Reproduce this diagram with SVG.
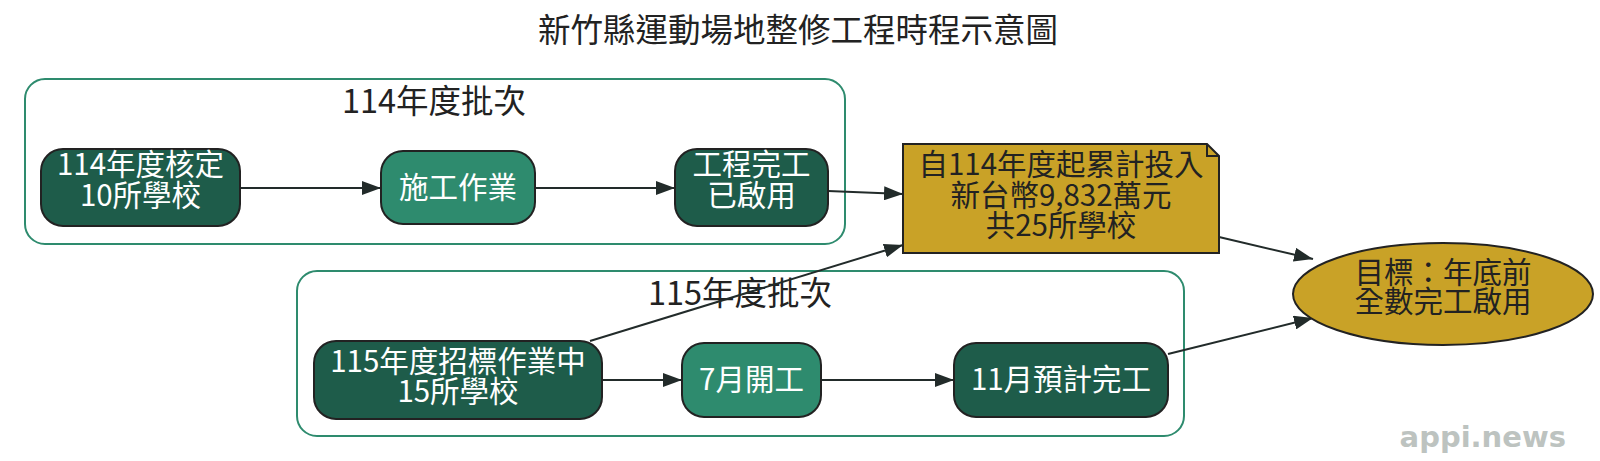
<svg xmlns="http://www.w3.org/2000/svg" width="1600" height="461" viewBox="0 0 1600 461">
<style>
text{font-family:"Noto Sans CJK TC","Noto Sans",sans-serif;text-anchor:middle}
.title{font-size:32.5px;fill:#222}
.clabel{font-size:32.5px;fill:#222}
.cluster{fill:#ffffff;stroke:#2e8b6e;stroke-width:2}
.dark{fill:#1e5c4a;stroke:#222;stroke-width:2}
.light{fill:#2e8b6e;stroke:#222;stroke-width:2}
.gold{fill:#c9a227;stroke:#222;stroke-width:2}
.wt{font-size:29.5px;fill:#ffffff}
.bt{font-size:29.5px;fill:#222}
.edge{stroke:#222b2a;stroke-width:2;fill:none;marker-end:url(#arr)}
.wm{font-family:"DejaVu Sans",sans-serif;font-weight:bold;font-size:29px;fill:#bdc3c0;text-anchor:end}
</style>
<defs>
<marker id="arr" markerUnits="userSpaceOnUse" markerWidth="20" markerHeight="14" refX="19" refY="7" orient="auto">
<path d="M0,0 L19,7 L0,14 z" fill="#222b2a"/>
</marker>
</defs>
<rect width="1600" height="461" fill="#ffffff"/>
<text class="title" x="798" y="42">新竹縣運動場地整修工程時程示意圖</text>

<g id="cluster114">
<rect class="cluster" x="25" y="79" width="820" height="165" rx="20"/>
<text class="clabel" x="434" y="113">114年度批次</text>
</g>
<g id="cluster115">
<rect class="cluster" x="297" y="271" width="887" height="165" rx="20"/>
<text class="clabel" x="740" y="305">115年度批次</text>
</g>

<g id="edges">
<line class="edge" x1="240" y1="188" x2="381" y2="188"/>
<line class="edge" x1="535" y1="188" x2="675" y2="188"/>
<line class="edge" x1="828" y1="191" x2="903" y2="194"/>
<line class="edge" x1="590" y1="341" x2="903" y2="245"/>
<line class="edge" x1="602" y1="380" x2="682" y2="380"/>
<line class="edge" x1="821" y1="380" x2="954" y2="380"/>
<line class="edge" x1="1219" y1="237" x2="1313" y2="259"/>
<line class="edge" x1="1168" y1="354" x2="1313" y2="318"/>
</g>

<g id="n114approved">
<rect class="dark" x="41" y="149" width="199" height="77" rx="22"/>
<text class="wt" x="140.5" y="175">114年度核定</text>
<text class="wt" x="140.5" y="206">10所學校</text>
</g>
<g id="nconstruct">
<rect class="light" x="381" y="151" width="154" height="73" rx="22"/>
<text class="wt" x="458" y="198">施工作業</text>
</g>
<g id="ndone">
<rect class="dark" x="675" y="149" width="153" height="77" rx="22"/>
<text class="wt" x="751.5" y="175">工程完工</text>
<text class="wt" x="751.5" y="206">已啟用</text>
</g>
<g id="nnote">
<polygon class="gold" points="903,144 1207,144 1219,156 1219,253 903,253"/>
<polyline points="1207,144 1207,156 1219,156" fill="none" stroke="#222" stroke-width="2"/>
<text class="bt" x="1061" y="175">自114年度起累計投入</text>
<text class="bt" x="1061" y="206">新台幣9,832萬元</text>
<text class="bt" x="1061" y="236">共25所學校</text>
</g>
<g id="ngoal">
<ellipse class="gold" cx="1443" cy="294" rx="150" ry="51"/>
<text class="bt" x="1443" y="283">目標：年底前</text>
<text class="bt" x="1443" y="312">全數完工啟用</text>
</g>
<g id="n115bid">
<rect class="dark" x="314" y="341" width="288" height="78" rx="22"/>
<text class="wt" x="458" y="372">115年度招標作業中</text>
<text class="wt" x="458" y="402">15所學校</text>
</g>
<g id="njul">
<rect class="light" x="682" y="343" width="139" height="74" rx="22"/>
<text class="wt" x="751.5" y="390">7月開工</text>
</g>
<g id="nnov">
<rect class="dark" x="954" y="343" width="214" height="74" rx="22"/>
<text class="wt" x="1061" y="390">11月預計完工</text>
</g>

<text class="wm" x="1566" y="447">appi.news</text>
</svg>
